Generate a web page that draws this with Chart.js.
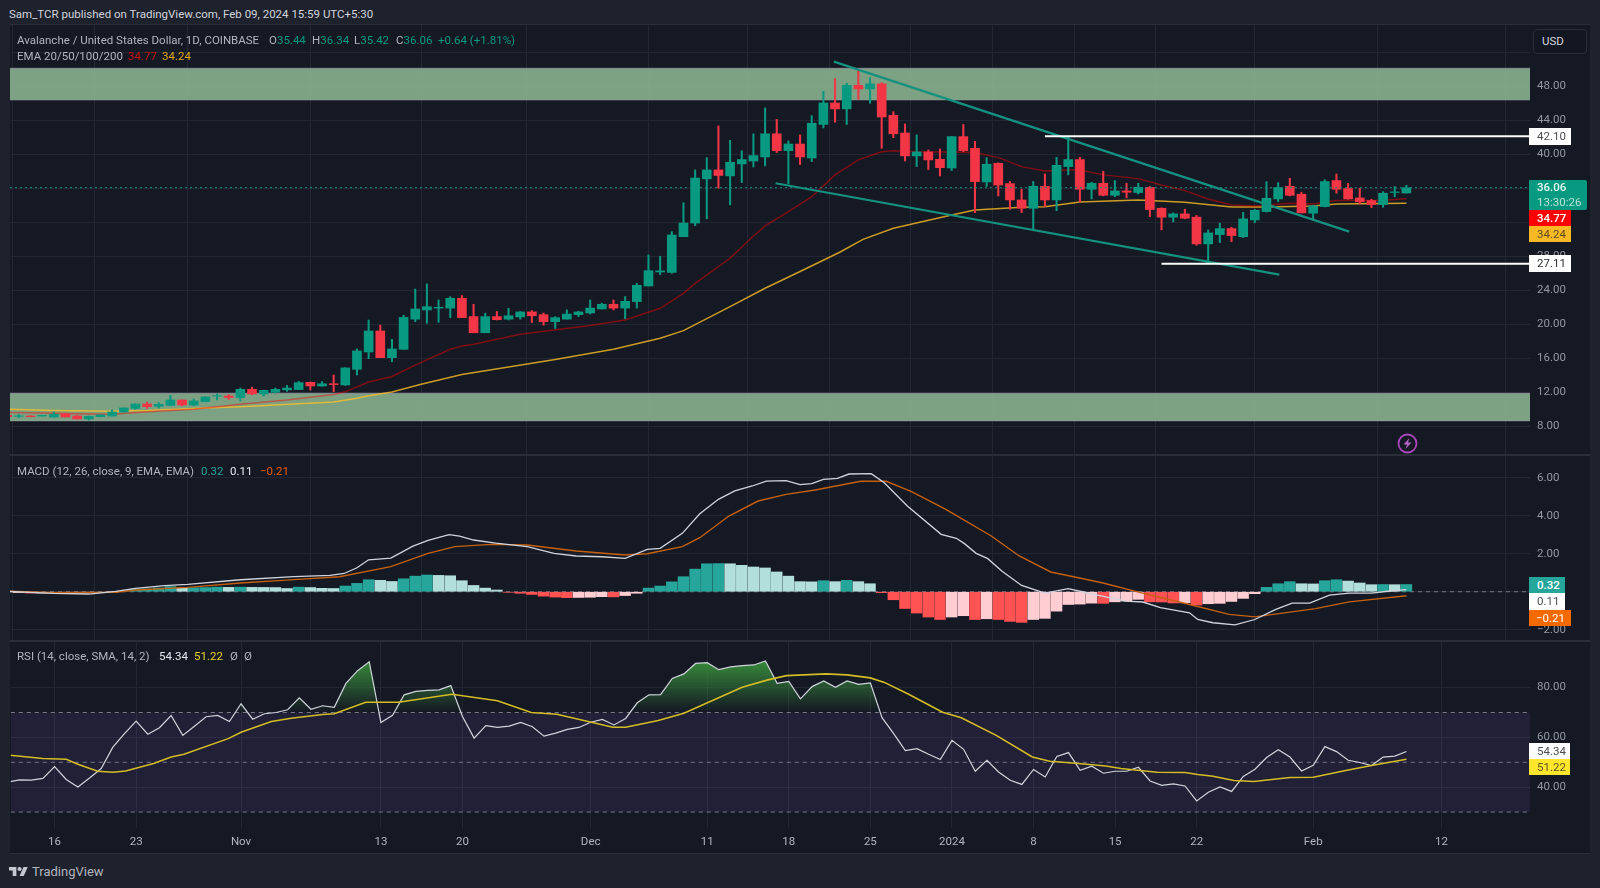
<!DOCTYPE html>
<html><head><meta charset="utf-8">
<script src="https://cdn.jsdelivr.net/npm/chart.js@4"></script>
<style>
html,body{margin:0;padding:0;background:#1e222d;width:1600px;height:888px;overflow:hidden;font-family:Roboto,"Noto Sans",sans-serif;font-size:11.5px;color:#b2b5be}
.panel{position:absolute;left:10px;width:1580px;background:#151924}
canvas{position:absolute;left:10px;display:block}
.t{position:absolute;white-space:nowrap;line-height:14px}
.b{position:absolute;left:1529px;text-align:left;padding-left:8px;box-sizing:border-box;white-space:nowrap}
.sep{position:absolute;left:10px;width:1580px;height:2px;background:#2a2e39}
</style></head><body>
<div class="panel" style="top:25px;height:828px"></div>
<canvas id="cP" width="1580" height="430" style="top:25px"></canvas>
<canvas id="cM" width="1580" height="186" style="top:455px"></canvas>
<canvas id="cR" width="1580" height="212" style="top:641px"></canvas>
<div class="sep" style="top:24px;height:1px"></div>
<div class="sep" style="top:454px"></div>
<div class="sep" style="top:640px"></div>
<div class="sep" style="top:853px;height:1px"></div>
<div class="t" style="left:9px;top:7px;color:#d1d4dc">Sam_TCR published on TradingView.com, Feb 09, 2024 15:59 UTC+5:30</div>
<div class="t" style="left:17px;top:33px">Avalanche / United States Dollar, 1D, COINBASE</div>
<div class="t" style="left:269px;top:33px">O<span style="color:#089981">35.44</span></div>
<div class="t" style="left:312px;top:33px">H<span style="color:#089981">36.34</span></div>
<div class="t" style="left:354px;top:33px">L<span style="color:#089981">35.42</span></div>
<div class="t" style="left:396px;top:33px">C<span style="color:#089981">36.06</span></div>
<div class="t" style="left:438px;top:33px;color:#089981">+0.64 (+1.81%)</div>
<div class="t" style="left:17px;top:49px">EMA 20/50/100/200</div>
<div class="t" style="left:128px;top:49px;color:#c4100f">34.77</div>
<div class="t" style="left:162px;top:49px;color:#e3a71f">34.24</div>
<div class="t" style="left:17px;top:464px">MACD (12, 26, close, 9, EMA, EMA)</div>
<div class="t" style="left:201px;top:464px;color:#26a69a">0.32</div>
<div class="t" style="left:230px;top:464px;color:#e6e8ee">0.11</div>
<div class="t" style="left:260px;top:464px;color:#e65c00">−0.21</div>
<div class="t" style="left:17px;top:649px">RSI (14, close, SMA, 14, 2)</div>
<div class="t" style="left:159px;top:649px;color:#e6e8ee">54.34</div>
<div class="t" style="left:194px;top:649px;color:#e8d22a">51.22</div>
<div class="t" style="left:230px;top:649px">Ø</div>
<div class="t" style="left:244px;top:649px">Ø</div>
<div style="position:absolute;left:1533px;top:29px;width:54px;height:25px;box-sizing:border-box;border:1px solid #2a2e39;border-radius:4px;background:#131722;color:#d1d4dc;line-height:23px;padding-left:8px">USD</div>
<div class="b" style="top:128px;width:42px;height:17px;line-height:17px;background:#fff;color:#4a4d55">42.10</div>
<div class="b" style="top:180px;width:58px;height:30px;line-height:15px;background:#089981;color:#e8f5f2;border-radius:0 2px 2px 0"><b style="font-weight:500">36.06</b><br><span style="color:#b6e0d7">13:30:26</span></div>
<div class="b" style="top:210px;width:42px;height:16px;line-height:16px;background:#ff0000;color:#fff;font-weight:500">34.77</div>
<div class="b" style="top:226px;width:42px;height:16px;line-height:16px;background:#f9b925;color:#5b4a20">34.24</div>
<div class="b" style="top:255px;width:42px;height:17px;line-height:17px;background:#fff;color:#2a2e39">27.11</div>
<div class="b" style="top:577px;width:36px;height:16px;line-height:16px;background:#26a69a;color:#fff;font-weight:500">0.32</div>
<div class="b" style="top:593px;width:36px;height:17px;line-height:17px;background:#fff;color:#4a4d55">0.11</div>
<div class="b" style="top:610px;width:42px;height:16px;line-height:16px;background:#f56a00;color:#fff;padding-left:7px">−0.21</div>
<div class="b" style="top:743px;width:41px;height:16px;line-height:16px;background:#fff;color:#4a4d55">54.34</div>
<div class="b" style="top:759px;width:41px;height:16px;line-height:16px;background:#ffe52b;color:#5b5520">51.22</div>
<svg style="position:absolute;left:1397px;top:433px" width="21" height="21" viewBox="0 0 21 21"><circle cx="10.5" cy="10.5" r="9" fill="none" stroke="#ab47bc" stroke-width="1.8"/><path d="M12.5 5L6.5 11.5h3.6L8.5 16l6-6.5h-3.6z" fill="#b865c8"/></svg>
<svg style="position:absolute;left:9px;top:867px" width="19" height="9" viewBox="0 4 36 18" preserveAspectRatio="none"><path fill="#c4c7cf" d="M14 22H7V11H0V4h14v18zM28 22h-8l7.5-18h8L28 22z"/><circle fill="#c4c7cf" cx="20" cy="8" r="4"/></svg>
<div class="t" style="left:32px;top:865px;color:#b2b5be;font-size:13px">TradingView</div>
<script>
// --- daily candles, Oct 12 2023 (day -4, where Oct 16 = day 0) to Feb 09 2024 (day 116)
const firstDay = -4;
const opens  = [9.3,9.17,9.21,9.21,9.09,9.45,9.21,8.86,9.13,9.21,9.68,10.11,10.62,10.35,10.46,11.09,10.5,10.9,11.55,11.56,11.37,12.35,11.8,11.99,12.27,12.31,13.17,12.74,13.0,12.86,14.7,16.74,19.21,16.07,17.05,20.6,21.68,21.9,21.9,23.05,20.9,19.0,20.9,20.6,20.86,21.45,21.13,20.3,20.6,21.13,21.33,21.8,22.35,21.9,22.66,24.5,26.15,26.1,30.3,31.9,37.1,38.15,37.45,38.86,39.2,39.68,42.4,40.42,41.2,39.56,43.5,46.03,45.33,48.1,47.68,48.27,44.58,42.5,39.8,40.27,39.4,38.38,42.07,40.7,36.74,38.93,36.54,34.62,33.64,36.23,34.62,38.55,39.37,35.88,36.58,35.17,35.68,35.49,36.11,33.64,32.59,32.98,32.6,29.45,30.55,31.25,30.3,32.27,33.25,34.74,36.23,35.29,33.06,33.84,36.9,35.96,34.86,34.55,34.08,35.5,35.44];
const highs  = [9.4,9.4,9.25,9.3,9.7,9.5,9.25,9.2,9.35,9.92,10.15,10.65,10.86,10.78,11.64,11.1,11.2,11.5,11.8,11.72,12.5,12.6,12.25,12.5,12.8,13.3,13.2,13.25,14.03,14.9,17.1,20.5,19.9,18.23,21.05,24.15,24.74,22.86,23.25,23.37,22.35,21.3,21.5,21.88,21.5,21.6,21.33,20.9,21.7,21.53,22.86,22.47,22.86,23.25,24.8,28.15,28.0,30.9,34.3,38.15,39.6,43.33,41.64,40.4,42.4,45.44,44.1,41.56,42.27,44.54,47.4,48.9,48.35,50.03,49.0,48.42,45.0,43.56,42.27,40.5,40.62,42.1,43.5,41.52,39.6,39.0,36.8,35.88,36.8,37.68,39.64,42.07,39.64,36.7,38.0,36.9,36.58,36.58,36.2,33.7,33.1,33.53,32.8,31.1,31.88,31.4,33.17,33.5,36.78,36.66,37.17,35.53,34.0,37.0,37.68,36.58,36.0,34.7,35.6,36.2,36.34];
const lows   = [9.05,9.0,9.1,9.2,9.05,9.08,8.85,8.74,9.1,9.2,9.66,10.0,10.11,10.15,10.46,10.4,10.45,10.88,11.1,11.17,11.0,11.7,11.56,11.9,12.1,12.3,12.27,12.7,12.07,12.8,14.03,15.95,16.07,15.6,17.05,20.3,20.1,20.23,20.78,20.78,19.0,19.0,20.5,20.5,20.6,20.2,19.9,19.5,20.6,20.9,21.2,21.8,21.68,20.66,21.9,24.5,25.84,26.0,30.3,31.6,32.4,36.0,34.04,36.66,38.5,38.62,40.2,36.5,38.78,39.13,43.09,43.76,43.5,46.46,46.0,40.7,41.95,39.2,38.54,38.2,37.44,38.07,40.3,33.13,36.2,35.09,33.52,33.13,31.1,33.83,33.36,37.57,34.39,34.74,35.1,35.0,34.86,35.33,32.66,31.1,32.04,32.4,29.3,27.25,29.6,29.72,30.2,31.96,33.2,34.43,35.1,33.1,32.35,33.8,35.41,34.7,34.15,33.72,33.76,35.0,35.42];
const closes = [9.12,9.22,9.13,9.29,9.41,9.09,8.86,9.17,9.33,9.68,10.15,10.62,10.31,10.58,11.09,10.5,10.97,11.45,11.6,11.37,12.35,11.8,12.23,12.35,12.5,13.13,12.74,13.0,12.9,14.86,16.86,19.21,16.07,17.09,20.8,21.8,22.07,22.0,23.05,20.78,19.0,20.9,20.54,21.0,21.45,21.0,20.3,20.78,21.2,21.45,21.9,22.35,21.9,22.7,24.58,26.3,26.28,30.5,31.9,37.2,38.15,37.5,39.05,39.37,39.84,42.4,40.42,41.2,39.68,43.64,46.03,45.33,48.1,47.68,48.27,44.38,42.4,39.8,40.27,39.33,38.42,42.07,40.42,36.78,38.82,36.38,34.62,33.64,36.23,34.62,38.7,39.37,35.88,36.58,35.17,35.68,35.53,36.11,33.49,32.59,32.98,32.47,29.45,30.74,31.25,30.43,32.39,33.41,34.82,36.08,35.17,33.1,33.92,36.78,35.88,34.74,34.39,34.08,35.41,35.57,36.06];

// --- moving averages: [day, value] vertices
const ema20Days = [-4,0,3,5,8,10,12,16,20,24,25,27,29,31,34,35,36,40,46,49,52,54,55,58,60,61,63,65,67,69,71,72,74,77,79,81,83,85,87,88,90,93,95,97,99,101,103,106,108,110,114,116];
const ema20Vals = [9.64,9.52,9.43,9.4,9.7,9.85,10.0,10.58,11.1,11.75,12.05,13.2,13.85,15.2,17.05,17.45,17.64,18.82,19.84,20.5,21.88,23.64,24.8,27.76,30.38,31.56,33.25,35.0,37.56,39.33,40.3,40.42,40.3,40.27,40.2,39.6,38.54,38.03,38.15,38.15,37.57,37.13,36.39,35.72,34.74,34.04,33.92,34.23,34.15,34.55,34.6,34.77];
const ema50Days = [-4,0,5,8,13,16,24,26,27,29,31.5,35,43,48,52,54,58,61,64,67.4,69.4,72,77,79,83,85,88,93,97,101,104,108,110,116];
const ema50Vals = [10.0,9.84,9.76,9.84,10.15,10.31,10.86,11.29,11.6,12.03,12.94,14.1,15.85,17.05,18.35,19.25,22.07,24.23,26.2,28.47,29.99,31.3,32.85,33.44,33.76,33.83,34.39,34.62,34.35,33.8,33.8,33.92,34.15,34.24];

// --- drawings on the price pane
const upperZone = [46.4,50.1];
const lowerZone = [8.65,11.87];
const lastPrice = 36.06;
const resistance = {day:85,value:42.10};
const support = {day:95,value:27.11};
const upperTrendDays = [66.9,111.1];
const upperTrendVals = [50.89,30.89];
const lowerTrendDays = [61.9,105.1];
const lowerTrendVals = [36.59,25.84];

// --- MACD
const histFirstDay = -3;
const histVals = [-0.05,-0.07,-0.07,-0.06,-0.05,-0.05,-0.04,-0.03,-0.01,0.03,0.14,0.15,0.2,0.27,0.2,0.21,0.22,0.24,0.23,0.24,0.23,0.225,0.22,0.17,0.24,0.22,0.18,0.17,0.3,0.44,0.63,0.6,0.54,0.68,0.82,0.88,0.86,0.84,0.58,0.33,0.19,0.09,-0.03,-0.08,-0.14,-0.23,-0.28,-0.31,-0.3,-0.29,-0.26,-0.27,-0.2,-0.08,0.19,0.3,0.52,0.79,1.19,1.47,1.48,1.47,1.39,1.3,1.25,1.04,0.82,0.53,0.52,0.58,0.53,0.6,0.53,0.42,-0.05,-0.42,-0.88,-1.12,-1.33,-1.46,-1.33,-1.26,-1.46,-1.42,-1.46,-1.56,-1.61,-1.46,-1.4,-1.02,-0.67,-0.65,-0.6,-0.61,-0.53,-0.49,-0.4,-0.53,-0.54,-0.59,-0.58,-0.7,-0.63,-0.61,-0.51,-0.35,-0.1,0.23,0.42,0.53,0.42,0.41,0.58,0.63,0.56,0.46,0.37,0.38,0.37,0.38];
const macdDays = [-4,0,3,5.3,7,9.5,11.5,16,20.6,23.7,24.9,26,27,28.9,30.8,32.1,33.9,34.8,36,37.9,40.6,42.9,44.8,47,49,50.9,52,53.9,55.4,57,58.4,59.9,61.1,62.8,64,65,66,67.2,68.2,70.1,71.2,73.2,76.1,77.4,78.1,79.1,80.1,81.3,83,85,87,88.2,89.9,91.9,93.4,94.9,97.4,98.1,99.4,101.3,103,104.8,106.2,107.7,109.4,111.1,113,114.6,116];
const macdVals = [0.02,-0.09,-0.12,0.02,0.18,0.32,0.39,0.63,0.79,0.86,0.96,1.26,1.68,1.77,2.4,2.7,3.0,2.93,2.72,2.56,2.37,2.02,1.88,1.84,1.75,2.23,2.28,3.07,4.1,4.86,5.3,5.56,5.82,5.84,5.63,5.68,5.91,5.96,6.19,6.21,5.74,4.51,3.02,2.81,2.53,2.02,1.74,1.09,0.33,-0.07,0.16,0,-0.23,-0.49,-0.54,-0.84,-1.11,-1.46,-1.63,-1.74,-1.46,-0.93,-0.6,-0.6,-0.18,-0.07,-0.07,0.04,0.11];
const signalDays = [-4,0,5.3,7,11.5,16,19.9,24.5,28.9,32.1,34.4,37.5,40.6,44.8,49,50.9,53.9,55.4,57.9,60.4,62.8,65.3,69.2,71.4,73.6,76.5,80.4,82.8,85.5,89.9,93.2,97.4,100.8,103,105.7,108.2,111.1,116];
const signalVals = [0.03,-0.05,-0.03,0.09,0.23,0.46,0.61,0.79,1.32,2.02,2.37,2.49,2.46,2.14,1.93,2.0,2.37,2.84,3.98,4.77,5.12,5.35,5.81,5.81,5.25,4.33,2.93,1.88,1.04,0.47,-0.05,-0.67,-1.19,-1.32,-1.1,-0.89,-0.53,-0.21];

// --- RSI
const rsiFirstDay = -4;
const rsiVals = [42.1,42.9,42.8,43.5,48.3,43.1,40.1,43.7,47.5,56.1,61.5,66.5,61.3,63.9,68.8,60.8,64.5,68.3,68.8,66.4,73.5,67.3,69.5,70,71.1,75.9,71.3,72.7,72.1,81.7,86.8,90.4,66,68.9,77.1,78.5,78.9,79.1,80.8,68.4,59.7,64.7,64,64.5,66,64.3,60.5,61.7,63.2,64,66.1,67.2,65,67.6,73.9,77.1,77.2,83.7,85.5,89.7,90,87.2,88.3,88.8,89.1,90.7,81.7,82.5,75.5,80.4,82.7,80.1,82.7,81.3,81.9,67.9,61.5,54.7,55.5,53.2,51.1,58.8,55.2,46.4,50.8,46.1,42.8,41.1,47.1,44.1,52.3,53.9,46.8,48.4,45.6,46.4,46.4,48,42.5,40.7,41.3,40.5,34.5,38,40.1,38.3,44.3,47.2,51.9,55,52.1,46.5,48.8,56.3,54.3,50.8,49.9,48.7,52.1,52.5,54.34];
const rsiMaDays = [-4,-1,1,2,3.7,5,6.1,8.5,10,11.1,14.9,16,18.6,20.3,23,24,26.7,29.5,34.1,38,40.9,43.1,47.9,49,51.8,54,59,61.2,62.8,66.2,68,70,71.2,73.2,76.2,77.8,80.8,83.9,85.4,87.6,90.2,91.5,94.6,97,98.1,99.4,101.2,102.9,106,108,111,113,116];
const rsiMaVals = [52.9,51.5,51.2,49.2,46.4,46,46.5,49.5,52.1,53.2,59.5,62.1,66.4,67.7,69.2,69.5,74.1,74.1,77.3,74.7,70,69.3,64.1,64.1,66.8,69.7,80.1,83.1,84.8,85.5,85.1,83.9,82.1,77.5,70.1,67.9,60.8,52.1,50.4,49.6,48.5,47.5,46,45.9,45.1,44.4,42.7,42.3,43.9,44,46.9,48.7,51.22];
const rsiBands = [70,50,30];

// --- axes
const tickDays   = [0,7,16,28,35,46,56,63,70,77,84,91,98,108,119];
const tickLabels = ['16','23','Nov','13','20','Dec','11','18','25','2024','8','15','22','Feb','12'];
const priceTicks = [52,48,44,40,36,32,28,24,20,16,12,8];
const macdTicks  = [6,4,2,0,-2];
const rsiTicks   = [80,60,40];

// --- view windows
const dayMin=-3.756, dayMax=126.6;
const priceRange=[4.62,55.2], macdRange=[-2.59,7.19], rsiRange=[23.6,98.4];

const GRID='#232733', AXIS='#9598a1', UP='#089981', DOWN='#f23645';
Chart.defaults.font.family='Roboto, "Noto Sans", sans-serif';
Chart.defaults.font.size=11.5;

function xy(days,vals){return days.map((d,i)=>({x:d,y:vals[i]}));}
function hline(v,from,to){return [{x:from,y:v},{x:to,y:v}];}
function line(data,color,width,order,extra){return Object.assign({type:'line',data,borderColor:color,borderWidth:width,pointRadius:0,tension:0,fill:false,order},extra||{});}
function noPad(a){a.paddingTop=a.paddingBottom=a.paddingLeft=a.paddingRight=0;}

function options(range,ticks,showX){
  return {responsive:false,animation:false,parsing:true,events:[],
    layout:{padding:0},
    plugins:{legend:{display:false},tooltip:{enabled:false},filler:{drawTime:'beforeDatasetDraw'}},
    scales:{
      x:{type:'linear',min:dayMin,max:dayMax,offset:false,
        border:{display:false},
        grid:{color:GRID,drawTicks:false,lineWidth:1},
        afterBuildTicks:a=>{a.ticks=tickDays.map(v=>({value:v}));},
        afterFit:a=>{a.height=showX?25:0;noPad(a);},
        ticks:{display:showX,color:'#b2b5be',autoSkip:false,maxRotation:0,padding:7,
          callback:v=>tickLabels[tickDays.indexOf(v)]}},
      y:{type:'linear',position:'right',min:range[0],max:range[1],
        border:{display:false},
        grid:{color:GRID,drawTicks:false,lineWidth:1},
        afterBuildTicks:a=>{a.ticks=ticks.map(v=>({value:v}));},
        afterFit:a=>{a.width=60;noPad(a);},
        ticks:{color:AXIS,padding:7,autoSkip:false,callback:v=>v===52||v===0?'':(v<0?'−':'')+Math.abs(v).toFixed(2)}}
    }};
}

// price pane
const candleDays=opens.map((_,i)=>firstDay+i);
const candleColors=opens.map((o,i)=>closes[i]>=o?UP:DOWN);
const zoneFill='rgba(150,195,155,0.8)', zoneEdge='#8a8f99';
new Chart(document.getElementById('cP'),{
  data:{datasets:[
    line(hline(upperZone[1],dayMin,dayMax),zoneEdge,1,9,{fill:{value:upperZone[0]},backgroundColor:zoneFill}),
    line(hline(upperZone[0],dayMin,dayMax),zoneEdge,1,9),
    line(hline(lowerZone[1],dayMin,dayMax),zoneEdge,1,9,{fill:{value:lowerZone[0]},backgroundColor:zoneFill}),
    line(hline(lowerZone[0],dayMin,dayMax),zoneEdge,1,9),
    line(xy(ema20Days,ema20Vals),'rgba(255,0,0,0.45)',1.5,8),
    line(xy(ema50Days,ema50Vals),'rgba(255,193,37,0.78)',1.5,8),
    {type:'bar',grouped:false,order:6,barThickness:1.4,backgroundColor:candleColors,
      data:candleDays.map((d,i)=>({x:d,y:[lows[i],highs[i]]}))},
    {type:'bar',grouped:false,order:5,barThickness:9,backgroundColor:candleColors,
      data:candleDays.map((d,i)=>({x:d,y:[opens[i],closes[i]]}))},
    line(hline(lastPrice,dayMin,dayMax),'#1c8c7c',1,4,{borderDash:[2,3]}),
    line(xy(upperTrendDays,upperTrendVals),'#14917f',2.2,3),
    line(xy(lowerTrendDays,lowerTrendVals),'#14917f',2.2,3),
    line(hline(resistance.value,resistance.day,dayMax),'#ffffff',2,2),
    line(hline(support.value,support.day,dayMax),'#ffffff',2,2)
  ]},
  options:options(priceRange,priceTicks,false)
});

// MACD pane
const histDays=histVals.map((_,i)=>histFirstDay+i);
const histColors=histVals.map((v,i)=>{const p=i?histVals[i-1]:v;
  return v>=0?(v>=p?'#26a69a':'#b2dfdb'):(v<p?'#ff5252':'#ffcdd2');});
new Chart(document.getElementById('cM'),{
  data:{datasets:[
    line(hline(0,dayMin,dayMax),'#787b86',1,5,{borderDash:[4,4]}),
    {type:'bar',grouped:false,order:4,barThickness:10.8,backgroundColor:histColors,
      data:histDays.map((d,i)=>({x:d,y:histVals[i]}))},
    line(xy(signalDays,signalVals),'#c4600f',1.4,3),
    line(xy(macdDays,macdVals),'#d1d4dc',1.3,2)
  ]},
  options:options(macdRange,macdTicks,false)
});

// RSI pane
const rsiDays=rsiVals.map((_,i)=>rsiFirstDay+i);
const rsiChart=new Chart(document.getElementById('cR'),{
  data:{datasets:[
    line(hline(rsiBands[0],dayMin,dayMax),'#787b86',1,6,{borderDash:[4,4],fill:{value:rsiBands[2]},backgroundColor:'rgba(126,87,194,0.12)'}),
    line(hline(rsiBands[1],dayMin,dayMax),'#787b86',1,6,{borderDash:[4,4]}),
    line(hline(rsiBands[2],dayMin,dayMax),'#787b86',1,6,{borderDash:[4,4]}),
    line(xy(rsiDays,rsiVals),'#d1d4dc',1.2,3,{fill:{value:rsiBands[0],above:'rgba(46,125,50,0.6)',below:'rgba(0,0,0,0)'}}),
    line(xy(rsiMaDays,rsiMaVals),'#d4bd24',1.6,2)
  ]},
  options:options(rsiRange,rsiTicks,true)
});
const ys=rsiChart.scales.y, grad=rsiChart.ctx.createLinearGradient(0,ys.getPixelForValue(90),0,ys.getPixelForValue(rsiBands[0]));
grad.addColorStop(0,'rgba(56,142,60,0.95)');
grad.addColorStop(1,'rgba(56,142,60,0)');
rsiChart.data.datasets[3].fill.above=grad;
rsiChart.update('none');
</script>
</body></html>
